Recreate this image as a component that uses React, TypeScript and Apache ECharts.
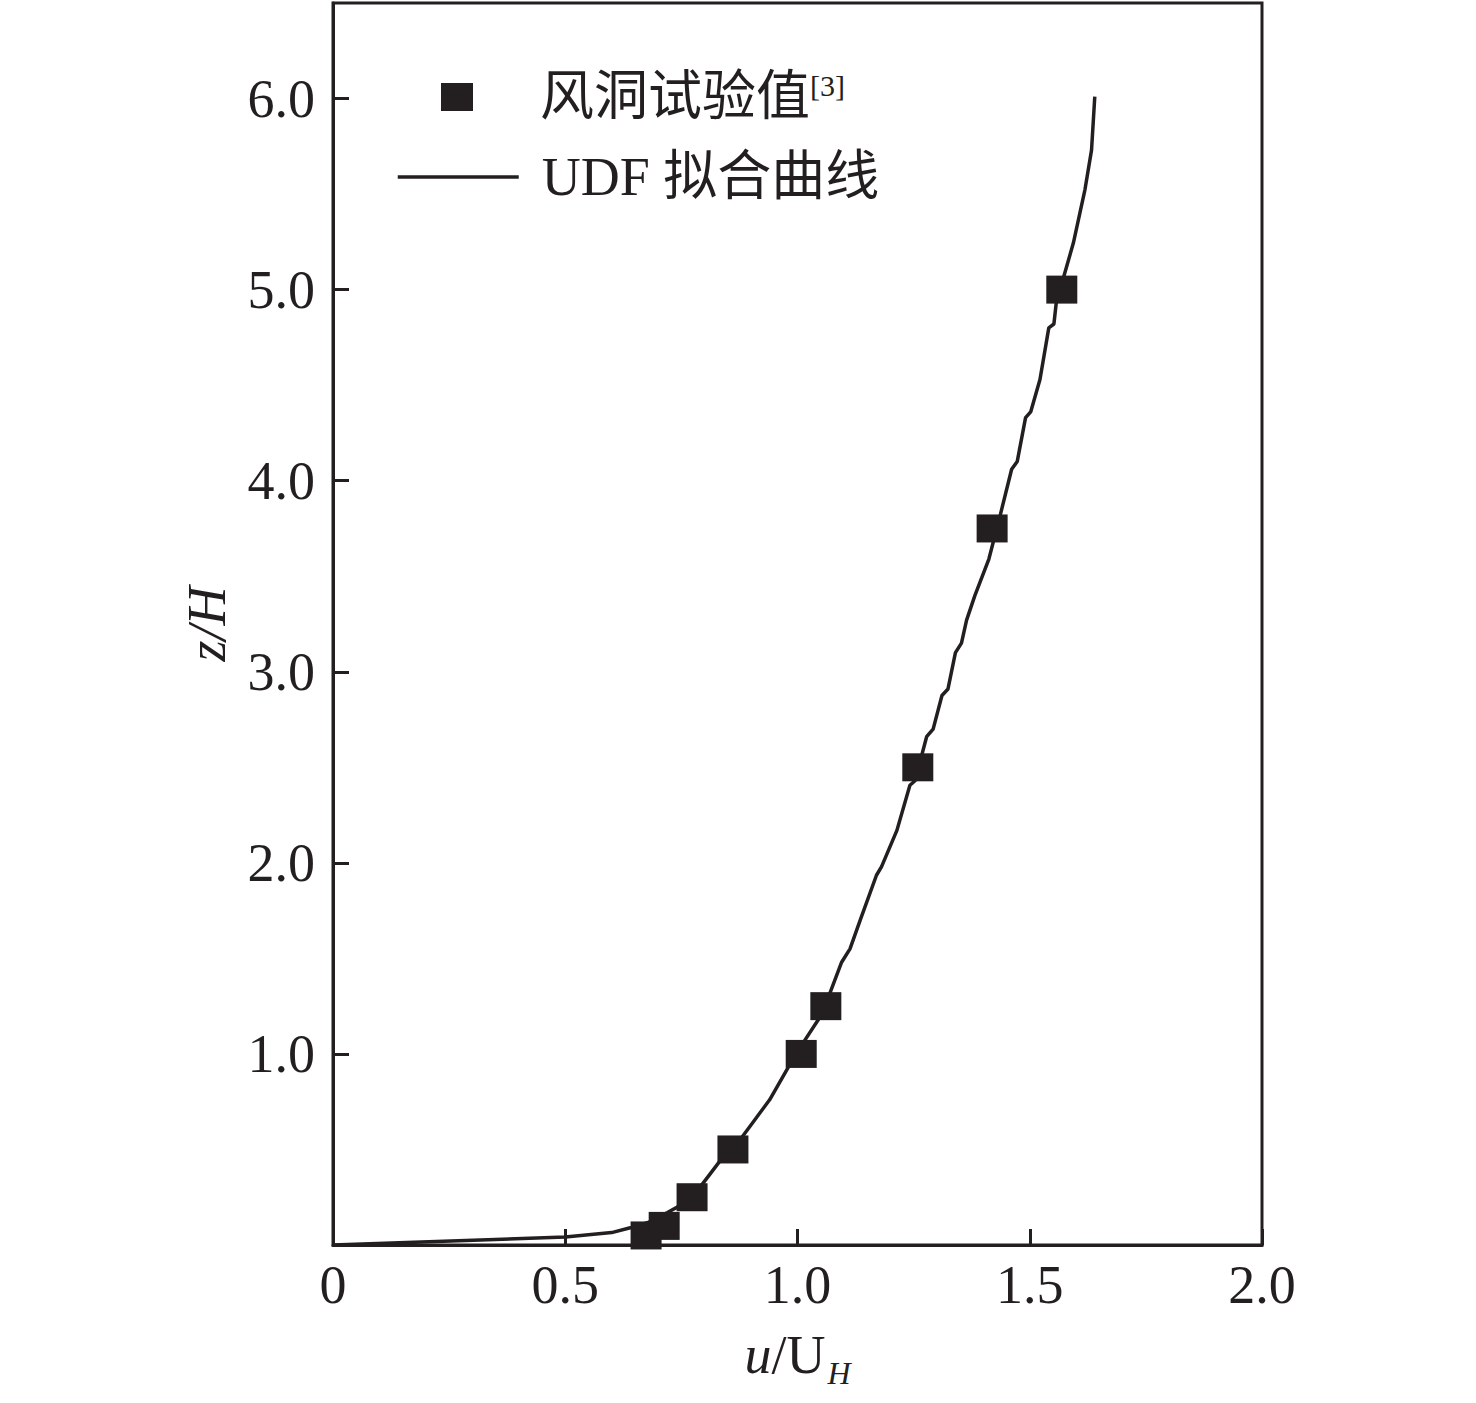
import React, { useEffect, useRef } from "react";
import * as echarts from "echarts";

// Wind tunnel measurements (u/U_H, z/H)
const windU = [0.674, 0.713, 0.773, 0.861, 1.008, 1.061, 1.259, 1.419, 1.569];
const windZ = [0.05, 0.1, 0.25, 0.5, 1.0, 1.25, 2.5, 3.75, 5.0];

// UDF fitted curve (u/U_H, z/H)
const udfU = [
  0, 0.5, 0.6, 0.64, 0.68, 0.72, 0.75, 0.78, 0.83, 0.87, 0.94, 0.98, 1.01, 1.045,
  1.07, 1.095, 1.113, 1.135, 1.17, 1.181, 1.214, 1.242, 1.253, 1.278, 1.292, 1.311,
  1.324, 1.34, 1.353, 1.364, 1.382, 1.412, 1.437, 1.461, 1.473, 1.491, 1.502, 1.522,
  1.541, 1.552, 1.557, 1.594, 1.619, 1.633, 1.64,
];
const udfZ = [
  0, 0.042, 0.065, 0.09, 0.12, 0.17, 0.21, 0.27, 0.43, 0.53, 0.76, 0.93, 1.05, 1.18,
  1.32, 1.48, 1.55, 1.7, 1.935, 1.98, 2.17, 2.406, 2.43, 2.66, 2.7, 2.876,
  2.91, 3.1, 3.15, 3.27, 3.4, 3.59, 3.825, 4.06, 4.1, 4.33, 4.36, 4.53,
  4.8, 4.82, 4.93, 5.245, 5.525, 5.73, 6.01,
];

const xTicks = [0, 0.5, 1.0, 1.5, 2.0];
const yTicks = [1.0, 2.0, 3.0, 4.0, 5.0, 6.0];

const seriesNames = ["风洞试验值", "UDF 拟合曲线"];

const INK = "#231f20";
const SERIF = "'Liberation Serif', 'Times New Roman', 'Noto Sans CJK SC', serif";

export default function App() {
  const ref = useRef<HTMLDivElement>(null);

  useEffect(() => {
    if (!ref.current) return;
    const chart = echarts.init(ref.current, undefined, { renderer: "svg" });

    const legendRich = {
      gapA: { width: 62, fontSize: 54, fontFamily: SERIF },
      gapB: { width: 18, fontSize: 54, fontFamily: SERIF },
      a: { fontSize: 54, fontFamily: SERIF, color: INK },
      sup: { fontSize: 30, fontFamily: SERIF, color: INK, verticalAlign: "top", lineHeight: 34 },
    };

    const option: any = {
      animation: false,
      backgroundColor: "#ffffff",
      grid: {
        left: 333,
        right: 214,
        top: 3,
        bottom: 158,
        show: true,
        borderColor: INK,
        borderWidth: 3,
        backgroundColor: "transparent",
      },
      legend: [
        {
          data: [{ name: seriesNames[0], icon: "rect" }],
          left: 441,
          top: 70,
          padding: 0,
          itemWidth: 32,
          itemHeight: 28,
          formatter: () => `{gapA|}{a|风洞试验值}{sup|[3]}`,
          textStyle: { rich: legendRich, fontSize: 54, fontFamily: SERIF, color: INK },
          selectedMode: false,
        },
        {
          data: [seriesNames[1]],
          left: 396,
          top: 150,
          padding: 0,
          itemWidth: 121,
          itemHeight: 28,
          itemStyle: { opacity: 0 },
          lineStyle: { width: 3.5, color: INK },
          formatter: () => `{gapB|}{a|UDF 拟合曲线}`,
          textStyle: { rich: legendRich, fontSize: 54, fontFamily: SERIF, color: INK },
          selectedMode: false,
        },
      ],
      xAxis: {
        type: "value",
        min: 0,
        max: 2,
        interval: 0.5,
        name: "{i|u}{n|/U}{s|H}",
        nameLocation: "middle",
        nameGap: 75,
        nameTextStyle: {
          rich: {
            i: { fontSize: 54, fontFamily: SERIF, fontStyle: "italic", color: INK },
            n: { fontSize: 54, fontFamily: SERIF, color: INK },
            s: {
              fontSize: 32,
              fontFamily: SERIF,
              fontStyle: "italic",
              color: INK,
              padding: [37, 0, 0, 2],
            },
          },
        },
        axisLine: { show: true, lineStyle: { color: INK, width: 3 } },
        axisTick: { show: true, inside: true, length: 16, lineStyle: { color: INK, width: 3 } },
        splitLine: { show: false },
        axisLabel: {
          margin: 13,
          fontSize: 54,
          fontFamily: SERIF,
          color: INK,
          formatter: (v: number) => {
            const t = xTicks.find((k) => Math.abs(k - v) < 1e-9);
            if (t === undefined) return "";
            return t === 0 ? "0" : t.toFixed(1);
          },
        },
      },
      yAxis: {
        type: "value",
        min: 0,
        max: 6.5,
        interval: 1,
        name: "z/H",
        nameLocation: "middle",
        nameRotate: 90,
        nameGap: 99,
        nameTextStyle: { fontSize: 54, fontFamily: SERIF, fontStyle: "italic", color: INK },
        axisLine: { show: true, lineStyle: { color: INK, width: 3 } },
        axisTick: { show: true, inside: true, length: 16, lineStyle: { color: INK, width: 3 } },
        splitLine: { show: false },
        axisLabel: {
          margin: 18,
          fontSize: 54,
          fontFamily: SERIF,
          color: INK,
          showMaxLabel: false,
          formatter: (v: number) => {
            const t = yTicks.find((k) => Math.abs(k - v) < 1e-9);
            return t === undefined ? "" : t.toFixed(1);
          },
        },
      },
      series: [
        {
          name: seriesNames[1],
          type: "line",
          data: udfU.map((u, i) => [u, udfZ[i]]),
          symbol: "none",
          smooth: false,
          lineStyle: { color: INK, width: 3.5 },
          itemStyle: { color: INK },
          z: 2,
        },
        {
          name: seriesNames[0],
          type: "scatter",
          data: windU.map((u, i) => [u, windZ[i]]),
          symbol: "rect",
          symbolSize: [31, 28],
          itemStyle: { color: INK, opacity: 1 },
          z: 3,
        },
      ],
    };

    chart.setOption(option);
    return () => chart.dispose();
  }, []);

  return (
    <div
      ref={ref}
      style={{ position: "absolute", left: 0, top: 0, width: 1476, height: 1403, background: "#fff" }}
    />
  );
}
